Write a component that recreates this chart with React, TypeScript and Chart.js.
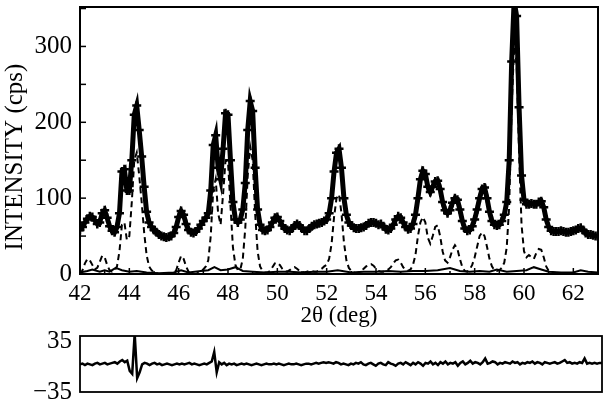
import React, { useEffect, useRef } from "react";
import { Chart, registerables } from "chart.js";

Chart.register(...registerables);

// ---- data (2θ scan, 0.1° step starting at 42°) ----
const SCAN_START = 42;
const SCAN_STEP = 0.1;

// observed intensity (cps)
const observedCps = [
  58, 62, 68, 73, 76, 75, 71, 66, 68, 80,
  84, 74, 63, 57, 55, 62, 80, 135, 138, 110,
  110, 150, 210, 222, 190, 155, 115, 82, 68, 62,
  58, 55, 52, 50, 49, 48, 49, 50, 54, 62,
  75, 83, 78, 66, 58, 55, 54, 56, 60, 65,
  70, 74, 80, 110, 170, 183, 140, 125, 165, 212,
  210, 150, 95, 72, 68, 72, 85, 120, 190, 228,
  215, 140, 85, 65, 58, 57, 58, 62, 68, 74,
  75, 70, 64, 60, 58, 57, 60, 64, 66, 64,
  60, 57, 57, 60, 63, 65, 66, 67, 68, 70,
  72, 80, 100, 135, 160, 165, 140, 100, 78, 68,
  64, 61, 60, 60, 61, 62, 64, 67, 68, 68,
  67, 65, 66, 63, 59, 58, 60, 65, 72, 76,
  74, 68, 62, 59, 60, 66, 78, 100, 125, 136,
  132, 115, 108, 115, 122, 123, 112, 95, 84, 80,
  84, 94, 100, 98, 85, 70, 60, 57, 58, 63,
  72, 85, 100, 112, 114, 100, 82, 70, 65, 64,
  65, 70, 78, 95, 150, 280, 360, 340, 220, 130,
  98, 92, 92, 93, 92, 92, 95, 96, 88, 72,
  62, 57, 56, 56, 56, 57, 56, 55, 55, 56,
  57, 58, 60, 61, 58, 54, 52, 52, 51, 50,
  50,
];

// main phase contribution (dashed)
const phaseCps = [
  0, 5, 14, 20, 18, 12, 6, 8, 16, 24,
  22, 12, 5, 3, 4, 10, 30, 65, 68, 45,
  50, 95, 150, 160, 130, 95, 55, 25, 10, 5,
  2, 1, 0, 0, 0, 0, 0, 0, 1, 5,
  15, 24, 20, 10, 3, 0, 0, 0, 2, 4,
  6, 10, 18, 50, 110, 125, 80, 65, 105, 150,
  148, 90, 35, 12, 5, 6, 20, 60, 130, 168,
  150, 80, 30, 10, 4, 2, 2, 4, 9, 14,
  15, 12, 7, 4, 3, 5, 8, 9, 7, 4,
  3, 2, 3, 4, 4, 3, 3, 5, 7, 10,
  12, 20, 40, 75, 100, 105, 80, 42, 18, 8,
  4, 2, 1, 2, 4, 7, 10, 12, 13, 11,
  7, 4, 3, 3, 4, 6, 9, 14, 18, 19,
  15, 9, 5, 4, 6, 12, 25, 50, 68, 75,
  68, 48, 40, 50, 62, 64, 50, 30, 18, 15,
  22, 32, 38, 33, 20, 9, 4, 3, 6, 12,
  22, 36, 50, 55, 50, 36, 20, 10, 5, 4,
  5, 8, 15, 35, 90, 220, 300, 280, 160, 65,
  30, 22, 25, 22, 20, 28, 33, 32, 22, 10,
  4, 2, 1, 0, 0, 0, 0, 0, 0, 0,
  0, 0, 0, 0, 0, 0, 0, 0, 0, 0,
  0,
];

// minor phase contribution (thin solid line near zero)
const minorPhaseAngles = [
  42.0, 42.3, 42.5, 42.8, 43.0, 43.2, 43.45, 43.7, 44.0, 44.3,
  44.7, 45.2, 45.8, 46.1, 46.4, 46.9, 47.2, 47.45, 47.7, 48.0,
  48.3, 48.6, 49.0, 49.5, 50.0, 50.5, 51.0, 51.5, 52.0, 52.45,
  53.0, 53.5, 54.0, 54.5, 55.0, 55.5, 56.0, 56.5, 57.0, 57.4,
  57.8, 58.2, 58.6, 58.9, 59.3, 59.7, 60.1, 60.4, 60.7, 61.0,
  61.5, 62.0, 62.3, 62.6, 63.0,
];
const minorPhaseCps = [
  2, 4, 6, 3, 5, 3, 8, 5, 3, 4,
  2, 1, 2, 5, 2, 4, 5, 9, 5, 6,
  9, 4, 3, 2, 3, 3, 2, 3, 3, 5,
  2, 3, 3, 4, 3, 4, 4, 5, 8, 4,
  3, 4, 3, 6, 3, 4, 5, 9, 6, 3,
  2, 2, 5, 3, 2,
];

// difference (obs - calc), same scan grid
const differenceCps = [
  3, 4, 2, 4, 3, 2, 4, 5, 3, 4,
  5, 3, 4, 5, 6, 4, 7, 9, 6, 8,
  -6, -10, 45, -16, -8, 3, 5, 4, 2, 4,
  5, 3, 4, 2, 3, 4, 3, 2, 3, 4,
  3, 4, 3, 4, 5, 3, 4, 3, 2, 3,
  4, 3, 5, 7, 20, -8, 6, 3, 5, 2,
  4, 3, 4, 2, 3, 4, 3, 4, 3, 2,
  3, 4, 3, 2, 3, 4, 3, 3, 4, 3,
  4, 3, 2, 3, 4, 3, 3, 4, 3, 2,
  3, 4, 4, 3, 4, 5, 4, 5, 6, 5,
  6, 5, 4, 6, 5, 3, 4, 3, 2, 4,
  3, 5, 4, 6, 3, 2, 4, 5, 3, 1,
  4, 5, 3, 2, 6, 4, 3, 1, 4, 5,
  3, 6, 4, 2, 5, 3, 6, 4, 1, 5,
  4, 7, 3, 5, 2, 6, 4, 7, 3, 5,
  4, 6, 1, 5, 7, 3, 5, 8, 4, 6,
  5, 3, 6, 11, 4, 5, 7, 6, 3, 5,
  4, 6, 5, 4, 7, 5, 6, 3, 5, 4,
  6, 5, 7, 4, 6, 5, 3, 6, 5, 4,
  5, 6, 4, 5, 7, 9, 5, 6, 4, 5,
  4, 6, 5, 11, 4, 5, 4, 5, 4, 5,
  5,
];

const xTickLabels = [42, 44, 46, 48, 50, 52, 54, 56, 58, 60, 62];
const yTickLabels = [0, 100, 200, 300];
const yTickMarks = [0, 50, 100, 150, 200, 250, 300, 350];
const diffTickLabels = [-35, 35];

const X_MIN = 42;
const X_MAX = 63;
const Y_MAX = 352;
const DIFF_MIN = -35;
const DIFF_MAX = 42;

const scanAngles = observedCps.map(
  (_, i) => Math.round((SCAN_START + i * SCAN_STEP) * 10) / 10
);
const toXY = (vals: number[], xs: number[]) => vals.map((y, i) => ({ x: xs[i], y }));

const FONT = '"Liberation Serif", "Times New Roman", serif';

const framePlugin = {
  id: "frame",
  afterDatasetsDraw(chart: any, _args: any, opts: any) {
    const { ctx, chartArea: a, scales } = chart;
    ctx.save();
    ctx.strokeStyle = "#000";
    ctx.lineWidth = 1.5;
    if (opts.xMarks) {
      for (let v = X_MIN; v <= X_MAX; v += 1) {
        const len = xTickLabels.includes(v) ? 6 : 3;
        const px = scales.x.getPixelForValue(v);
        ctx.beginPath();
        ctx.moveTo(px, a.bottom);
        ctx.lineTo(px, a.bottom - len);
        ctx.stroke();
      }
    }
    if (opts.yMarks) {
      yTickMarks.forEach((v) => {
        const py = scales.y.getPixelForValue(v);
        ctx.beginPath();
        ctx.moveTo(a.left, py);
        ctx.lineTo(a.left + 6, py);
        ctx.stroke();
      });
    }
    ctx.lineWidth = opts.width || 2;
    ctx.strokeRect(a.left, a.top, a.right - a.left, a.bottom - a.top);
    if (opts.yTitle) {
      ctx.fillStyle = "#000";
      ctx.font = `25px ${FONT}`;
      ctx.translate(opts.yTitleX, opts.yTitleY);
      ctx.rotate(-Math.PI / 2);
      ctx.textAlign = "center";
      ctx.textBaseline = "middle";
      ctx.fillText(opts.yTitle, 0, 0);
    }
    ctx.restore();
  },
};

function ChartBox({ config, style }: { config: () => any; style: React.CSSProperties }) {
  const ref = useRef<HTMLCanvasElement | null>(null);
  useEffect(() => {
    if (!ref.current) return;
    const chart = new Chart(ref.current, config());
    return () => chart.destroy();
  }, []);
  return (
    <div style={{ position: "absolute", ...style }}>
      <canvas ref={ref} />
    </div>
  );
}

const fixVertical = (s: any) => {
  s.width = 80;
  s.paddingTop = 0;
  s.paddingBottom = 0;
};

const mainConfig = () => ({
  type: "line",
  data: {
    datasets: [
      {
        label: "observed",
        data: toXY(observedCps, scanAngles),
        borderColor: "#000",
        borderWidth: 5,
        pointStyle: "cross",
        pointRadius: 4.5,
        pointBorderWidth: 2.5,
        pointBorderColor: "#000",
        tension: 0,
      },
      {
        label: "phase",
        data: toXY(phaseCps, scanAngles),
        borderColor: "#000",
        borderWidth: 2,
        borderDash: [6, 4],
        pointRadius: 0,
        tension: 0,
      },
      {
        label: "minor phase",
        data: toXY(minorPhaseCps, minorPhaseAngles),
        borderColor: "#000",
        borderWidth: 2,
        pointRadius: 0,
        tension: 0,
      },
    ],
  },
  options: {
    responsive: true,
    maintainAspectRatio: false,
    animation: false,
    layout: { padding: { top: 3, right: 3, left: 0, bottom: 0 } },
    plugins: {
      legend: { display: false },
      tooltip: { enabled: false },
      frame: { xMarks: true, yMarks: true, yTitle: "INTENSITY (cps)", yTitleX: 15, yTitleY: 157, width: 2 },
    },
    scales: {
      x: {
        type: "linear",
        min: X_MIN,
        max: X_MAX,
        afterFit: (s: any) => { s.height = 58; s.paddingLeft = 0; s.paddingRight = 0; },
        grid: { display: false, drawTicks: false },
        border: { display: false },
        ticks: {
          stepSize: 2,
          includeBounds: false,
          autoSkip: false,
          padding: 6,
          color: "#000",
          font: { family: FONT, size: 23 },
          maxRotation: 0,
          callback: (v: number) => (xTickLabels.includes(v) ? String(v) : ""),
        },
        title: {
          display: true,
          text: "2θ (deg)",
          color: "#000",
          font: { family: FONT, size: 23 },
          padding: { top: 0, bottom: 2 },
        },
      },
      y: {
        min: 0,
        max: Y_MAX,
        afterFit: fixVertical,
        afterBuildTicks: (s: any) => { s.ticks = yTickLabels.map((v) => ({ value: v })); },
        grid: { display: false, drawTicks: false },
        border: { display: false },
        ticks: {
          autoSkip: false,
          padding: 8,
          color: "#000",
          font: { family: FONT, size: 25 },
          callback: (v: number) => String(v),
        },
      },
    },
  },
  plugins: [framePlugin],
});

const diffConfig = () => ({
  type: "line",
  data: {
    datasets: [
      {
        label: "difference",
        data: toXY(differenceCps, scanAngles),
        borderColor: "#000",
        borderWidth: 2.5,
        pointRadius: 0,
        tension: 0,
      },
    ],
  },
  options: {
    responsive: true,
    maintainAspectRatio: false,
    animation: false,
    layout: { padding: { top: 6, right: 3, left: 0, bottom: 14 } },
    plugins: {
      legend: { display: false },
      tooltip: { enabled: false },
      frame: { width: 1.8 },
    },
    scales: {
      x: {
        type: "linear",
        min: X_MIN,
        max: X_MAX,
        display: false,
      },
      y: {
        min: DIFF_MIN,
        max: DIFF_MAX,
        afterFit: fixVertical,
        afterBuildTicks: (s: any) => { s.ticks = diffTickLabels.map((v) => ({ value: v })); },
        grid: { display: false, drawTicks: false },
        border: { display: false },
        ticks: {
          autoSkip: false,
          padding: 8,
          color: "#000",
          font: { family: FONT, size: 25 },
          callback: (v: number) => (v < 0 ? "\u2212" + Math.abs(v) : String(v)),
        },
      },
    },
  },
  plugins: [framePlugin],
});

export default function App() {
  return (
    <div style={{ position: "fixed", left: 0, top: 0, width: 605, height: 406, background: "#fff" }}>
      <ChartBox config={mainConfig} style={{ left: 0, top: 0, width: 605, height: 332 }} />
      <ChartBox config={diffConfig} style={{ left: 0, top: 330, width: 605, height: 76 }} />
    </div>
  );
}
